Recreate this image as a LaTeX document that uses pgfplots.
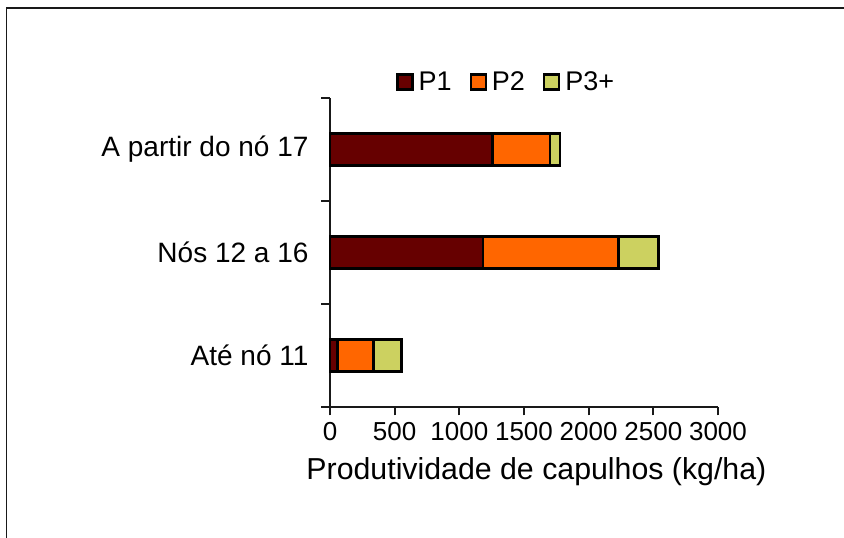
\documentclass[border=0pt]{standalone}
\usepackage{fontspec}
\setmainfont{Liberation Sans}
\usepackage{pgfplots}
\pgfplotsset{compat=1.18}

\definecolor{pone}{RGB}{102,0,0}
\definecolor{ptwo}{RGB}{255,102,0}
\definecolor{pthree}{RGB}{204,209,96}

\pgfplotsset{
    sqlegend/.style={legend image code/.code={\draw[##1] (0pt,-7.5pt) rectangle (15pt,7.5pt);}},
}

\begin{document}
\begin{tikzpicture}
\useasboundingbox (0pt,0pt) rectangle (844pt,538pt);
\draw[line width=1.6pt, black!90] (6.5pt,0pt) -- (6.5pt,530pt) -- (844pt,530pt);
\begin{axis}[
    at={(330pt,131pt)}, anchor=south west,
    scale only axis,
    width=388pt, height=309pt,
    xbar stacked,
    bar width=32pt,
    xmin=0, xmax=3000,
    ymin=-0.5, ymax=2.5,
    axis x line*=bottom,
    axis y line*=left,
    axis line style={line width=2pt, black!90, -},
    tick style={line width=2pt, black!90},
    tick align=outside,
    major tick length=8.5pt,
    xtick={0,500,...,3000},
    ytick={-0.5,0.5,1.5,2.5},
    yticklabels={,,,},
    extra y ticks={0,1,2},
    extra y tick labels={Até nó 11,Nós 12 a 16,A partir do nó 17},
    extra y tick style={major tick length=0pt, yticklabel style={xshift=-18pt}},
    /pgf/number format/assume math mode=true,
    /pgf/number format/1000 sep={},
    xticklabel style={font=\fontsize{26}{30}\selectfont, yshift=-3pt},
    yticklabel style={font=\fontsize{28}{32}\selectfont},
    xlabel={Produtividade de capulhos (kg/ha)},
    xlabel style={font=\fontsize{30.3}{34}\selectfont,
        at={(axis description cs:0.532,-0.236)}, anchor=base},
    legend style={at={(axis description cs:0.454,1.052)}, anchor=center,
        draw=none, fill=none, legend columns=-1,
        font=\fontsize{27}{31}\selectfont,
        /tikz/every odd column/.append style={column sep=3pt},
        /tikz/every even column/.append style={column sep=16pt}},
    clip=false,
]
\addplot[fill=pone, draw=black, line width=2.4pt, sqlegend]
    coordinates {(57,0) (1183,1) (1255,2)};
\addplot[fill=ptwo, draw=black, line width=2.4pt, sqlegend]
    coordinates {(278,0) (1047,1) (446,2)};
\addplot[fill=pthree, draw=black, line width=2.4pt, sqlegend]
    coordinates {(219,0) (309,1) (78,2)};
\legend{P1,P2,P3+}
\end{axis}
\end{tikzpicture}
\end{document}
